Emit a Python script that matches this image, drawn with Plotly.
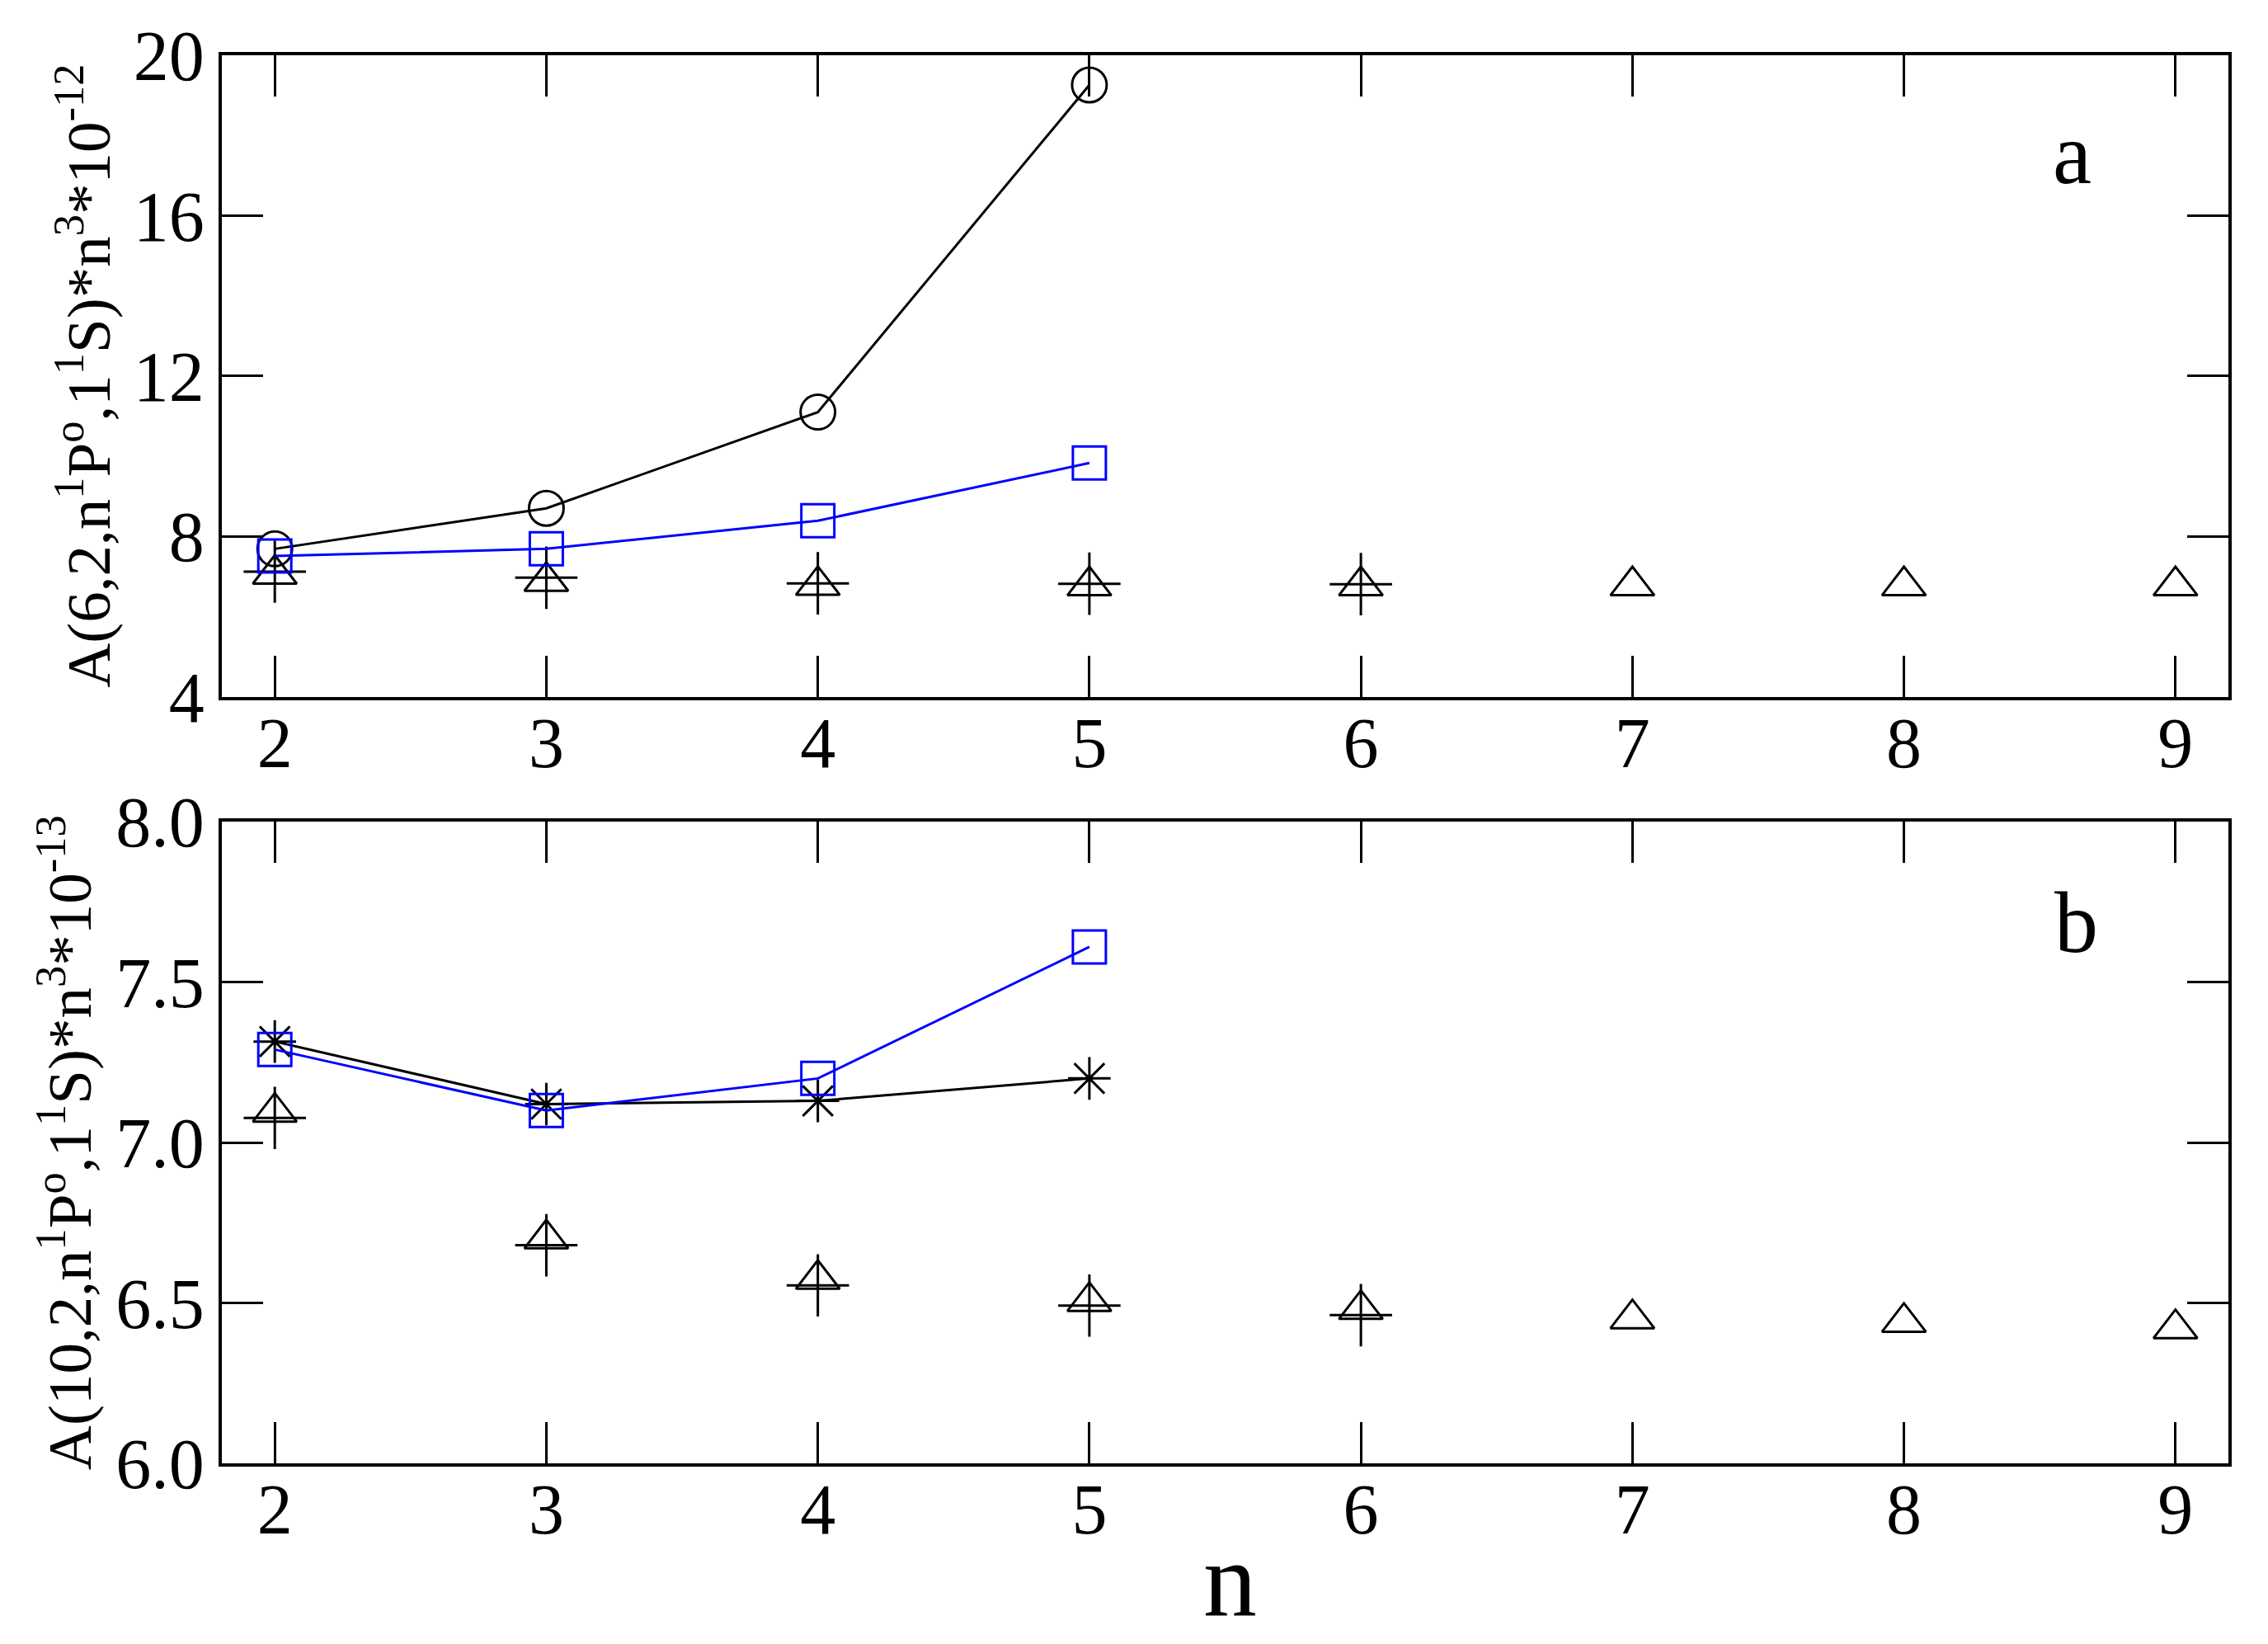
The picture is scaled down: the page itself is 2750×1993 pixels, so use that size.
import plotly.graph_objects as go
from plotly.subplots import make_subplots

# ---------------- data ----------------
n_all = [2, 3, 4, 5, 6, 7, 8, 9]
n_4 = [2, 3, 4, 5]
n_5 = [2, 3, 4, 5, 6]

# panel a
a_circle = [7.69, 8.70, 11.10, 19.26]
a_square = [7.51, 7.69, 8.39, 9.83]
a_triangle = [7.06, 6.88, 6.78, 6.77, 6.77, 6.77, 6.77, 6.77]
a_plus = [7.12, 6.97, 6.83, 6.82, 6.81]

# panel b
b_square = [7.29, 7.10, 7.20, 7.61]
b_star = [7.315, 7.12, 7.13, 7.20]
b_triangle = [7.095, 6.70, 6.574, 6.505, 6.48, 6.451, 6.44, 6.42]
b_plus = [7.077, 6.68, 6.555, 6.492, 6.462]

x_ticks = [2, 3, 4, 5, 6, 7, 8, 9]
a_ticks = [4, 8, 12, 16, 20]
b_ticks = [6.0, 6.5, 7.0, 7.5, 8.0]
b_ticktext = ["6.0", "6.5", "7.0", "7.5", "8.0"]

title_a = "A(6,2,n<sup>1</sup>P<sup>o</sup>,1<sup>1</sup>S)*n<sup>3</sup>*10<sup>-12</sup>"
title_b = "A(10,2,n<sup>1</sup>P<sup>o</sup>,1<sup>1</sup>S)*n<sup>3</sup>*10<sup>-13</sup>"

FONT = "Liberation Serif, Times New Roman, Times, serif"
BLACK = "#000000"
BLUE = "#0000FF"

# page body has an 8px default margin, so the figure is drawn at (8, 8)
OFF = 8
W, H = 2750 - OFF, 1993 - OFF
L, R, T, B = 269 - OFF, 48, 62 - OFF, 219
plot_h = H - T - B
plot_w = W - L - R


def py(px):
    # px: absolute page pixel (from top)
    return (H + OFF - B - px) / plot_h


def pxx(px):
    return (px - OFF - L) / plot_w


fig = make_subplots(rows=2, cols=1)

mk_line = 3


def add(x, y, row, symbol, size, color, line=False):
    fig.add_trace(
        go.Scatter(
            x=x, y=y,
            mode="lines+markers" if line else "markers",
            line=dict(color=color, width=3),
            marker=dict(symbol=symbol, size=size, color=color,
                        line=dict(color=color, width=mk_line)),
            showlegend=False,
        ),
        row=row, col=1,
    )


# panel a
add(n_all, a_triangle, 1, "triangle-up-open", 46, BLACK)
add(n_5, a_plus, 1, "cross-thin-open", 54, BLACK)
add(n_4, a_circle, 1, "circle-open", 42, BLACK, line=True)
add(n_4, a_square, 1, "square-open", 40, BLUE, line=True)

# panel b
add(n_all, b_triangle, 2, "triangle-up-open", 46, BLACK)
add(n_5, b_plus, 2, "cross-thin-open", 54, BLACK)
add(n_4, b_star, 2, "asterisk-open", 43, BLACK, line=True)
add(n_4, b_square, 2, "square-open", 40, BLUE, line=True)

axis_common = dict(
    showline=True, linewidth=4, linecolor=BLACK, mirror="allticks",
    ticks="inside", ticklen=50, tickwidth=3, tickcolor=BLACK,
    showgrid=False, zeroline=False,
    tickfont=dict(family=FONT, size=86, color=BLACK),
)

fig.update_xaxes(**axis_common, range=[1.805, 9.195], tickvals=x_ticks,
                 ticklabelstandoff=-22)
fig.update_yaxes(**axis_common)
fig.update_yaxes(range=[4, 20], tickvals=a_ticks, row=1, col=1)
fig.update_yaxes(range=[6, 8], tickvals=b_ticks, ticktext=b_ticktext, row=2, col=1)

fig.update_layout(
    xaxis=dict(domain=[0, 1], anchor="y"),
    xaxis2=dict(domain=[0, 1], anchor="y2"),
    yaxis=dict(domain=[py(842), 1.0]),
    yaxis2=dict(domain=[0.0, py(994)]),
)

annotations = [
    dict(text=title_a, xref="paper", yref="paper", x=pxx(102), y=py(452),
         textangle=-90, showarrow=False, xanchor="center", yanchor="middle",
         font=dict(family=FONT, size=75, color=BLACK)),
    dict(text=title_b, xref="paper", yref="paper", x=pxx(79), y=py(1384),
         textangle=-90, showarrow=False, xanchor="center", yanchor="middle",
         font=dict(family=FONT, size=75, color=BLACK)),
    dict(text="n", xref="paper", yref="paper", x=pxx(1491), y=py(1915),
         showarrow=False, xanchor="center", yanchor="middle",
         font=dict(family=FONT, size=130, color=BLACK)),
    dict(text="a", xref="x", yref="y", x=8.62, y=17.55,
         showarrow=False, xanchor="center", yanchor="middle",
         font=dict(family=FONT, size=106, color=BLACK)),
    dict(text="b", xref="x2", yref="y2", x=8.635, y=7.686,
         showarrow=False, xanchor="center", yanchor="middle",
         font=dict(family=FONT, size=106, color=BLACK)),
]

fig.update_layout(
    width=W, height=H,
    margin=dict(l=L, r=R, t=T, b=B, pad=0),
    paper_bgcolor="white", plot_bgcolor="white",
    annotations=annotations,
    font=dict(family=FONT, color=BLACK),
)

fig.write_html("out.html")
